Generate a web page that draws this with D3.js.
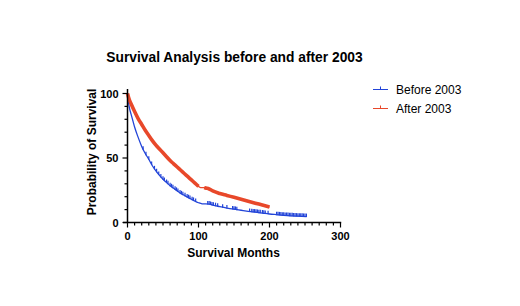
<!DOCTYPE html>
<html><head><meta charset="utf-8">
<script src="https://cdn.jsdelivr.net/npm/d3@7"></script>
<style>body{margin:0;background:#fff}svg{display:block}text{font-family:"Liberation Sans",Arial,sans-serif}</style>
</head><body>
<script>
// ---- data ----
const beforeMonths = [0,1,2,3,5,8,10,15,20,25,30,35,40,45,50,55,60,65,70,75,80,85,90,95,100,105,115,120,130,140,150,160,170,180,190,200,210,220,230,240,252];
const beforeSurv   = [100,95,91,88,84,78,74,66,59,53.5,49,44,40,36.5,33.5,31,28.5,26.5,24.5,22.5,21,19.5,18,16.5,15.3,14.5,14.3,13.5,12.3,11.2,10.3,9.5,8.7,8,7.3,6.6,6.1,5.6,5.2,4.9,4.6];
const afterMonths  = [0,2,5,10,15,20,25,30,35,40,45,50,55,60,65,70,75,80,85,90,95,100,103,108,110,115,120,130,140,150,160,170,180,190,200];
const afterSurv    = [100,96,92,86,80.5,76,71.5,67.5,63.5,60,57,54,51,48,45.5,43,40.5,38,35.5,33,30.5,28,27,27,26.7,26,24.5,22.5,21,19.5,18,16.5,15,13.5,12];
const beforeCensor = [22,26,30,34,38,41,44,47,50,52,55,57,60,62,64,67,69,71,74,76,78,81,84,86,88,91,93,96,113,115,117,119,121,124,127,134,140,148,150,152,154,172,175,177,179,181,183,185,187,190,192,194,198,210,212,214,216,218,220,222,224,226,228,230,232,234,236,238,240,242,244,246,248,250,252];
const afterDense = [[0,102],[108,200]]; // periods where censor marks merge into a thick band
const seriesNames = ["Before 2003","After 2003"];
const xTicks = [0,100,200,300];
const yTicks = [0,50,100];

const W=520,H=306;
const svg=d3.select("body").append("svg").attr("width",W).attr("height",H);
const x=d3.scaleLinear().domain([0,300]).range([127.5,340.5]);
const y=d3.scaleLinear().domain([0,100]).range([222.5,93.5]);
const blue="#2244d8", red="#e8482a";

svg.append("text").attr("x",234.5).attr("y",61.5).attr("text-anchor","middle")
  .attr("font-size",13.8).attr("font-weight","bold").text("Survival Analysis before and after 2003");

const line=d3.line().x(d=>x(d[0])).y(d=>y(d[1])).curve(d3.curveMonotoneX);
const bData=beforeMonths.map((m,i)=>[m,beforeSurv[i]]);
const aData=afterMonths.map((m,i)=>[m,afterSurv[i]]);
svg.append("path").attr("d",line(bData)).attr("fill","none").attr("stroke",blue).attr("stroke-width",1.3);
svg.append("path").attr("d",line(aData)).attr("fill","none").attr("stroke",red).attr("stroke-width",1.3);
afterDense.forEach(r=>{
  const seg=aData.filter(d=>d[0]>=r[0]&&d[0]<=r[1]);
  svg.append("path").attr("d",line(seg)).attr("fill","none").attr("stroke",red).attr("stroke-width",3.6);
});
const survAt=(m)=>{
  const i=d3.bisectRight(beforeMonths,m)-1;
  if(i>=beforeMonths.length-1) return beforeSurv[beforeSurv.length-1];
  const t=(m-beforeMonths[i])/(beforeMonths[i+1]-beforeMonths[i]);
  return beforeSurv[i]+t*(beforeSurv[i+1]-beforeSurv[i]);
};
svg.append("g").selectAll("line").data(beforeCensor).join("line")
  .attr("x1",d=>x(d)).attr("x2",d=>x(d)).attr("y1",d=>y(survAt(d))+0.5).attr("y2",d=>y(survAt(d))-3)
  .attr("stroke",blue).attr("stroke-width",1.2);

const ax=svg.append("g").attr("stroke","#000").attr("fill","none");
ax.append("line").attr("x1",x(0)-4.5).attr("x2",x(300)+0.7).attr("y1",y(0)).attr("y2",y(0)).attr("stroke-width",1.5);
ax.append("line").attr("x1",x(0)).attr("x2",x(0)).attr("y1",y(0)).attr("y2",y(103.5)).attr("stroke-width",1.5);
d3.range(0,301,10).forEach(v=>{
  const major=xTicks.includes(v);
  ax.append("line").attr("x1",x(v)).attr("x2",x(v)).attr("y1",y(0)).attr("y2",y(0)+(major?5:3)).attr("stroke-width",1.2);
});
d3.range(0,101,10).forEach(v=>{
  const major=yTicks.includes(v);
  ax.append("line").attr("x1",x(0)).attr("x2",x(0)-(major?5:3)).attr("y1",y(v)).attr("y2",y(v)).attr("stroke-width",1.2);
});
svg.append("g").selectAll("text").data(xTicks).join("text")
  .attr("x",d=>x(d)).attr("y",239.5).attr("text-anchor","middle").attr("font-size",11).attr("font-weight","bold").text(d=>d);
svg.append("g").selectAll("text").data(yTicks).join("text")
  .attr("x",118.5).attr("y",d=>y(d)+4).attr("text-anchor","end").attr("font-size",11).attr("font-weight","bold").text(d=>d);

svg.append("text").attr("x",233.5).attr("y",256.5).attr("text-anchor","middle")
  .attr("font-size",12).attr("font-weight","bold").text("Survival Months");
svg.append("text").attr("transform","translate(96,152) rotate(-90)").attr("text-anchor","middle")
  .attr("font-size",12).attr("font-weight","bold").text("Probability of Survival");

const lg=svg.append("g");
seriesNames.forEach((n,i)=>{
  const yy=89.5+i*19, c=i===0?blue:red;
  lg.append("line").attr("x1",373).attr("x2",388).attr("y1",yy).attr("y2",yy).attr("stroke",c).attr("stroke-width",1);
  lg.append("line").attr("x1",380.5).attr("x2",380.5).attr("y1",yy+0.5).attr("y2",yy-3).attr("stroke",c).attr("stroke-width",1);
  lg.append("text").attr("x",396).attr("y",yy+4.3).attr("font-size",12).text(n);
});
</script>
</body></html>
